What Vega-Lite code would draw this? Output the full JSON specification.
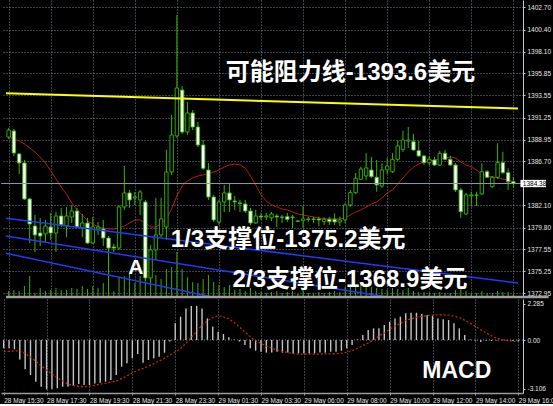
{
  "$schema": "https://vega.github.io/schema/vega-lite/v6.json",
  "background": "black",
  "padding": 0,
  "spacing": 0,
  "config": {"view": {"stroke": null}, "font": "Liberation Sans", "axis": {"labelOverlap": false}},
  "datasets": {
    "candles": [
      {"i":0,"o":1389.22,"h":1390.16,"l":1389.02,"c":1389.95,"v":60,"ma":1389.22,"m":-0.53,"s":-0.74},
      {"i":1,"o":1389.85,"h":1390.06,"l":1387.25,"c":1387.56,"v":70,"ma":1389.02,"m":-0.53,"s":-0.72},
      {"i":2,"o":1387.46,"h":1387.56,"l":1385.37,"c":1386.52,"v":60,"ma":1388.81,"m":-0.59,"s":-0.69},
      {"i":3,"o":1386.52,"h":1386.83,"l":1382.67,"c":1382.77,"v":110,"ma":1388.5,"m":-1.23,"s":-0.68},
      {"i":4,"o":1382.77,"h":1382.88,"l":1378.19,"c":1380.17,"v":210,"ma":1388.08,"m":-1.86,"s":-0.85},
      {"i":5,"o":1379.96,"h":1381.11,"l":1377.26,"c":1379.03,"v":40,"ma":1387.66,"m":-2.22,"s":-1.1},
      {"i":6,"o":1379.23,"h":1380.8,"l":1377.88,"c":1378.92,"v":90,"ma":1387.14,"m":-2.64,"s":-1.35},
      {"i":7,"o":1379.13,"h":1380.59,"l":1378.19,"c":1379.96,"v":60,"ma":1386.52,"m":-2.96,"s":-1.62},
      {"i":8,"o":1379.86,"h":1381.32,"l":1378.51,"c":1379.23,"v":70,"ma":1385.69,"m":-3.13,"s":-1.9},
      {"i":9,"o":1379.23,"h":1381.42,"l":1377.26,"c":1381.0,"v":90,"ma":1384.85,"m":-3.13,"s":-2.15},
      {"i":10,"o":1381.0,"h":1381.84,"l":1379.86,"c":1380.07,"v":70,"ma":1384.02,"m":-3.06,"s":-2.4},
      {"i":11,"o":1379.96,"h":1381.94,"l":1378.82,"c":1381.0,"v":70,"ma":1383.29,"m":-2.96,"s":-2.6},
      {"i":12,"o":1380.9,"h":1382.15,"l":1380.27,"c":1381.52,"v":90,"ma":1382.36,"m":-2.96,"s":-2.8},
      {"i":13,"o":1381.52,"h":1381.84,"l":1379.75,"c":1379.86,"v":80,"ma":1381.63,"m":-2.92,"s":-2.88},
      {"i":14,"o":1379.75,"h":1381.21,"l":1378.82,"c":1380.27,"v":110,"ma":1381.11,"m":-2.79,"s":-2.94},
      {"i":15,"o":1380.27,"h":1380.8,"l":1378.09,"c":1378.19,"v":80,"ma":1380.48,"m":-2.85,"s":-2.96},
      {"i":16,"o":1378.19,"h":1380.9,"l":1378.09,"c":1379.86,"v":110,"ma":1380.17,"m":-2.85,"s":-2.92},
      {"i":17,"o":1379.65,"h":1380.38,"l":1379.03,"c":1379.86,"v":90,"ma":1379.86,"m":-2.75,"s":-2.86},
      {"i":18,"o":1379.65,"h":1380.59,"l":1377.88,"c":1378.71,"v":140,"ma":1379.75,"m":-2.71,"s":-2.8},
      {"i":19,"o":1378.71,"h":1378.92,"l":1374.9,"c":1377.67,"v":210,"ma":1379.65,"m":-2.64,"s":-2.74},
      {"i":20,"o":1377.78,"h":1378.09,"l":1377.26,"c":1377.67,"v":60,"ma":1379.65,"m":-2.54,"s":-2.67},
      {"i":21,"o":1377.67,"h":1382.15,"l":1377.47,"c":1381.94,"v":190,"ma":1379.75,"m":-2.22,"s":-2.6},
      {"i":22,"o":1381.94,"h":1386.21,"l":1381.63,"c":1383.4,"v":210,"ma":1379.96,"m":-1.69,"s":-2.45},
      {"i":23,"o":1383.4,"h":1383.71,"l":1381.84,"c":1382.67,"v":240,"ma":1380.27,"m":-1.48,"s":-2.27},
      {"i":24,"o":1382.88,"h":1383.5,"l":1382.15,"c":1382.98,"v":140,"ma":1380.59,"m":-1.16,"s":-2.08},
      {"i":25,"o":1382.67,"h":1383.71,"l":1381.11,"c":1383.5,"v":210,"ma":1380.59,"m":-0.89,"s":-1.93},
      {"i":26,"o":1382.46,"h":1382.67,"l":1374.34,"c":1374.55,"v":300,"ma":1380.27,"m":-1.44,"s":-1.8},
      {"i":27,"o":1374.55,"h":1377.99,"l":1374.14,"c":1377.47,"v":250,"ma":1379.86,"m":-1.27,"s":-1.66},
      {"i":28,"o":1377.47,"h":1382.88,"l":1376.42,"c":1379.03,"v":220,"ma":1379.86,"m":-1.16,"s":-1.5},
      {"i":29,"o":1379.03,"h":1382.88,"l":1378.82,"c":1380.69,"v":180,"ma":1380.17,"m":-1.06,"s":-1.33},
      {"i":30,"o":1379.86,"h":1387.87,"l":1378.51,"c":1385.58,"v":280,"ma":1380.69,"m":-0.8,"s":-1.15},
      {"i":31,"o":1385.58,"h":1391.51,"l":1385.27,"c":1389.43,"v":300,"ma":1381.73,"m":-0.1,"s":-0.95},
      {"i":32,"o":1389.33,"h":1401.92,"l":1389.12,"c":1394.32,"v":450,"ma":1383.08,"m":1.06,"s":-0.75},
      {"i":33,"o":1394.11,"h":1394.53,"l":1389.54,"c":1389.74,"v":280,"ma":1384.12,"m":1.48,"s":-0.55},
      {"i":34,"o":1389.74,"h":1392.87,"l":1389.43,"c":1391.72,"v":200,"ma":1384.65,"m":2.0,"s":-0.2},
      {"i":35,"o":1391.72,"h":1392.03,"l":1389.95,"c":1390.26,"v":150,"ma":1384.96,"m":2.16,"s":0.15},
      {"i":36,"o":1390.26,"h":1390.78,"l":1388.18,"c":1388.39,"v":140,"ma":1385.17,"m":2.16,"s":0.55},
      {"i":37,"o":1388.39,"h":1388.91,"l":1385.79,"c":1385.96,"v":180,"ma":1385.27,"m":2.0,"s":0.95},
      {"i":38,"o":1385.79,"h":1386.52,"l":1382.67,"c":1382.98,"v":220,"ma":1385.37,"m":1.37,"s":1.2},
      {"i":39,"o":1382.98,"h":1383.19,"l":1380.38,"c":1380.59,"v":150,"ma":1385.58,"m":0.85,"s":1.42},
      {"i":40,"o":1380.38,"h":1382.67,"l":1380.07,"c":1382.46,"v":120,"ma":1385.79,"m":0.53,"s":1.54},
      {"i":41,"o":1382.46,"h":1384.23,"l":1381.42,"c":1383.4,"v":100,"ma":1386.1,"m":0.38,"s":1.47},
      {"i":42,"o":1383.4,"h":1384.44,"l":1381.42,"c":1382.67,"v":120,"ma":1386.31,"m":0.17,"s":1.33},
      {"i":43,"o":1382.56,"h":1383.08,"l":1381.63,"c":1382.46,"v":70,"ma":1386.41,"m":0.03,"s":1.12},
      {"i":44,"o":1382.36,"h":1382.67,"l":1381.42,"c":1382.3,"v":80,"ma":1386.31,"m":-0.1,"s":0.82},
      {"i":45,"o":1382.25,"h":1382.67,"l":1381.32,"c":1381.52,"v":60,"ma":1386.0,"m":-0.32,"s":0.5},
      {"i":46,"o":1381.52,"h":1381.84,"l":1380.07,"c":1380.27,"v":90,"ma":1385.17,"m":-0.53,"s":0.2},
      {"i":47,"o":1380.27,"h":1381.63,"l":1380.17,"c":1381.0,"v":60,"ma":1384.23,"m":-0.68,"s":-0.05},
      {"i":48,"o":1381.0,"h":1381.32,"l":1380.59,"c":1380.9,"v":50,"ma":1383.19,"m":-0.74,"s":-0.22},
      {"i":49,"o":1380.9,"h":1381.32,"l":1380.59,"c":1381.0,"v":40,"ma":1382.56,"m":-0.8,"s":-0.38},
      {"i":50,"o":1380.8,"h":1381.42,"l":1380.48,"c":1381.21,"v":50,"ma":1382.15,"m":-0.8,"s":-0.52},
      {"i":51,"o":1381.0,"h":1381.21,"l":1379.86,"c":1380.9,"v":60,"ma":1381.94,"m":-0.74,"s":-0.63},
      {"i":52,"o":1380.9,"h":1381.11,"l":1380.27,"c":1380.85,"v":40,"ma":1381.73,"m":-0.8,"s":-0.72},
      {"i":53,"o":1380.93,"h":1381.32,"l":1380.38,"c":1380.66,"v":50,"ma":1381.63,"m":-0.8,"s":-0.8},
      {"i":54,"o":1380.9,"h":1381.11,"l":1379.75,"c":1380.85,"v":60,"ma":1381.42,"m":-0.85,"s":-0.87},
      {"i":55,"o":1380.48,"h":1380.59,"l":1380.38,"c":1380.45,"v":30,"ma":1381.21,"m":-0.85,"s":-0.89},
      {"i":56,"o":1380.51,"h":1382.04,"l":1379.75,"c":1380.69,"v":80,"ma":1381.11,"m":-0.85,"s":-0.89},
      {"i":57,"o":1380.64,"h":1380.93,"l":1380.41,"c":1380.69,"v":40,"ma":1381.0,"m":-0.85,"s":-0.89},
      {"i":58,"o":1380.69,"h":1380.93,"l":1380.27,"c":1380.64,"v":40,"ma":1380.9,"m":-0.85,"s":-0.89},
      {"i":59,"o":1380.69,"h":1380.93,"l":1379.96,"c":1380.59,"v":50,"ma":1380.8,"m":-0.8,"s":-0.89},
      {"i":60,"o":1380.41,"h":1380.87,"l":1380.07,"c":1380.66,"v":40,"ma":1380.69,"m":-0.8,"s":-0.88},
      {"i":61,"o":1380.66,"h":1380.9,"l":1380.07,"c":1380.41,"v":50,"ma":1380.69,"m":-0.74,"s":-0.87},
      {"i":62,"o":1380.66,"h":1381.28,"l":1380.07,"c":1380.38,"v":60,"ma":1380.69,"m":-0.74,"s":-0.86},
      {"i":63,"o":1380.38,"h":1380.93,"l":1379.96,"c":1380.59,"v":50,"ma":1380.69,"m":-0.68,"s":-0.84},
      {"i":64,"o":1380.59,"h":1382.32,"l":1380.24,"c":1382.15,"v":100,"ma":1380.8,"m":-0.53,"s":-0.78},
      {"i":65,"o":1382.15,"h":1383.71,"l":1381.94,"c":1383.43,"v":120,"ma":1381.11,"m":-0.32,"s":-0.68},
      {"i":66,"o":1383.43,"h":1385.48,"l":1383.29,"c":1384.93,"v":110,"ma":1381.42,"m":0.05,"s":-0.52},
      {"i":67,"o":1384.82,"h":1386.13,"l":1384.75,"c":1385.89,"v":130,"ma":1381.63,"m":0.32,"s":-0.35},
      {"i":68,"o":1385.17,"h":1387.56,"l":1384.75,"c":1386.0,"v":140,"ma":1381.94,"m":0.63,"s":-0.19},
      {"i":69,"o":1385.79,"h":1387.17,"l":1384.96,"c":1385.09,"v":100,"ma":1382.25,"m":0.74,"s":0.0},
      {"i":70,"o":1385.03,"h":1386.83,"l":1383.53,"c":1384.23,"v":90,"ma":1382.46,"m":0.74,"s":0.25},
      {"i":71,"o":1384.12,"h":1386.49,"l":1383.92,"c":1385.79,"v":80,"ma":1382.88,"m":0.95,"s":0.45},
      {"i":72,"o":1385.79,"h":1387.04,"l":1385.37,"c":1386.21,"v":70,"ma":1383.4,"m":1.16,"s":0.68},
      {"i":73,"o":1385.61,"h":1387.56,"l":1385.48,"c":1386.9,"v":90,"ma":1383.71,"m":1.37,"s":0.88},
      {"i":74,"o":1386.9,"h":1388.91,"l":1386.73,"c":1388.29,"v":80,"ma":1384.33,"m":1.48,"s":1.05},
      {"i":75,"o":1387.94,"h":1389.88,"l":1387.66,"c":1388.91,"v":70,"ma":1384.96,"m":1.69,"s":1.24},
      {"i":76,"o":1388.81,"h":1390.26,"l":1388.08,"c":1388.91,"v":90,"ma":1385.58,"m":1.73,"s":1.34},
      {"i":77,"o":1388.73,"h":1389.54,"l":1387.77,"c":1387.87,"v":60,"ma":1386.1,"m":1.73,"s":1.43},
      {"i":78,"o":1387.8,"h":1388.81,"l":1387.14,"c":1387.25,"v":50,"ma":1386.41,"m":1.65,"s":1.5},
      {"i":79,"o":1387.25,"h":1387.35,"l":1386.31,"c":1386.55,"v":50,"ma":1386.62,"m":1.59,"s":1.55},
      {"i":80,"o":1386.55,"h":1387.25,"l":1386.31,"c":1386.9,"v":40,"ma":1386.73,"m":1.52,"s":1.58},
      {"i":81,"o":1386.83,"h":1387.14,"l":1386.21,"c":1386.31,"v":40,"ma":1386.83,"m":1.37,"s":1.59},
      {"i":82,"o":1386.31,"h":1387.77,"l":1386.21,"c":1387.53,"v":50,"ma":1386.93,"m":1.31,"s":1.59},
      {"i":83,"o":1387.53,"h":1387.87,"l":1386.83,"c":1386.9,"v":40,"ma":1387.04,"m":1.27,"s":1.58},
      {"i":84,"o":1386.9,"h":1387.25,"l":1386.21,"c":1386.31,"v":40,"ma":1387.14,"m":1.06,"s":1.52},
      {"i":85,"o":1386.31,"h":1386.52,"l":1383.5,"c":1383.71,"v":70,"ma":1387.04,"m":0.74,"s":1.42},
      {"i":86,"o":1383.71,"h":1383.92,"l":1380.8,"c":1381.45,"v":80,"ma":1386.62,"m":0.32,"s":1.25},
      {"i":87,"o":1381.21,"h":1383.4,"l":1381.11,"c":1383.19,"v":60,"ma":1386.31,"m":0.04,"s":1.07},
      {"i":88,"o":1383.08,"h":1383.53,"l":1381.97,"c":1383.19,"v":40,"ma":1386.1,"m":-0.04,"s":0.87},
      {"i":89,"o":1383.14,"h":1383.53,"l":1382.04,"c":1383.19,"v":40,"ma":1385.79,"m":-0.13,"s":0.65},
      {"i":90,"o":1383.29,"h":1386.49,"l":1383.19,"c":1385.61,"v":60,"ma":1385.37,"m":-0.04,"s":0.45},
      {"i":91,"o":1385.61,"h":1385.79,"l":1384.96,"c":1385.03,"v":40,"ma":1385.17,"m":-0.06,"s":0.27},
      {"i":92,"o":1384.05,"h":1385.17,"l":1383.92,"c":1385.03,"v":40,"ma":1385.06,"m":-0.03,"s":0.1},
      {"i":93,"o":1385.03,"h":1388.57,"l":1384.85,"c":1386.55,"v":60,"ma":1384.96,"m":-0.02,"s":0.02},
      {"i":94,"o":1386.55,"h":1387.69,"l":1385.37,"c":1385.51,"v":50,"ma":1384.85,"m":-0.04,"s":-0.04},
      {"i":95,"o":1385.51,"h":1385.97,"l":1383.71,"c":1384.57,"v":50,"ma":1384.75,"m":-0.06,"s":-0.08},
      {"i":96,"o":1384.57,"h":1385.06,"l":1383.92,"c":1384.38,"v":30,"ma":1384.54,"m":-0.08,"s":-0.11}
    ],
    "trend": [
      {"line":"resist","i":-0.504,"p":1393.77},
      {"line":"resist","i":96.88,"p":1392.19},
      {"line":"s1","i":-0.504,"p":1380.76},
      {"line":"s1","i":96.88,"p":1374.03},
      {"line":"s2","i":-0.504,"p":1378.92},
      {"line":"s2","i":96.88,"p":1370.39},
      {"line":"s3","i":-0.504,"p":1377.12},
      {"line":"s3","i":96.88,"p":1365.82}
    ],
    "bid": [{"p": 1384.38, "label": "1384.38"}],
    "one": [{}]
  },
  "vconcat": [
    {
      "width": 522,
      "height": 297,
      "layer": [
        {
          "data": {"name": "candles"},
          "mark": {"type": "rule", "color": "#3aae00", "strokeWidth": 1},
          "encoding": {
            "x": {"field": "i", "type": "quantitative", "scale": {"domain": [-0.504, 96.88], "nice": false, "zero": false},
                  "axis": {"values": [0,8,16,24,32,40,48,56,64,72,80,88,96], "tickCount": 20, "grid": true, "gridColor": "#778899", "gridDash": [1,2], "labels": false, "ticks": false, "domain": false, "title": null}},
            "y": {"field": "v", "type": "quantitative", "scale": {"domain": [0, 2970], "nice": false}, "axis": null},
            "y2": {"datum": 0}
          }
        },
        {
          "data": {"name": "candles"},
          "encoding": {
            "x": {"field": "i", "type": "quantitative"}
          },
          "layer": [
            {
              "mark": {"type": "line", "color": "#b81c1c", "strokeWidth": 1},
              "encoding": {
                "y": {"field": "ma", "type": "quantitative", "scale": {"domain": [1372.57, 1403.48], "nice": false, "zero": false},
                      "axis": {"orient": "right", "values": [1402.70,1400.40,1398.10,1395.85,1393.55,1391.25,1388.95,1386.70,1382.10,1379.80,1377.55,1375.25,1372.95],
                               "tickCount": 20,
                               "labelExpr": "format(datum.value, '.2f')", "grid": true, "gridColor": "#778899", "gridDash": [1,2],
                               "domainColor": "#c8c8c8", "tickColor": "#c8c8c8", "tickSize": 2, "labelPadding": 2,
                               "labelFont": "Liberation Sans", "labelFontSize": 6.5, "labelColor": "#e6e6e6", "labelOverlap": false, "title": null}}
              }
            },
            {
              "mark": {"type": "rule", "color": "#38b800", "strokeWidth": 1},
              "encoding": {
                "y": {"field": "l", "type": "quantitative"},
                "y2": {"field": "h"}
              }
            },
            {
              "mark": {"type": "bar", "size": 3.4, "stroke": "#38b800", "strokeWidth": 0.9},
              "encoding": {
                "y": {"field": "o", "type": "quantitative"},
                "y2": {"field": "c"},
                "color": {"condition": {"test": "datum.c < datum.o", "value": "#ffffff"}, "value": "#000000"}
              }
            }
          ]
        },
        {
          "layer": [
            {
              "data": {"name": "bid"},
              "mark": {"type": "rule", "color": "#8c9aa8", "strokeWidth": 1},
              "encoding": {
                "y": {"field": "p", "type": "quantitative", "scale": {"domain": [1372.57, 1403.48], "nice": false, "zero": false}, "axis": null}
              }
            },
            {
              "data": {"name": "trend"},
              "transform": [{"filter": "datum.line !== 'resist'"}],
              "mark": {"type": "line", "color": "#1e3cff", "strokeWidth": 1.5, "clip": true},
              "encoding": {
                "x": {"field": "i", "type": "quantitative"},
                "y": {"field": "p", "type": "quantitative"},
                "detail": {"field": "line"}
              }
            },
            {
              "data": {"name": "trend"},
              "transform": [{"filter": "datum.line === 'resist'"}],
              "mark": {"type": "line", "color": "#ffff00", "strokeWidth": 2, "clip": true},
              "encoding": {
                "x": {"field": "i", "type": "quantitative"},
                "y": {"field": "p", "type": "quantitative"}
              }
            },
            {
              "data": {"name": "bid"},
              "mark": {"type": "tick", "orient": "horizontal", "color": "#ffffff", "size": 25.6, "thickness": 7.3, "opacity": 1},
              "encoding": {
                "x": {"datum": 99.78},
                "y": {"field": "p", "type": "quantitative"}
              }
            },
            {
              "data": {"name": "bid"},
              "mark": {"type": "text", "color": "#000000", "font": "Liberation Sans", "fontSize": 6.5, "align": "left", "baseline": "middle"},
              "encoding": {
                "x": {"datum": 97.8},
                "y": {"field": "p", "type": "quantitative"},
                "text": {"field": "label"}
              }
            },
            {
              "data": {"name": "one"},
              "mark": {"type": "text", "color": "#ffffff", "font": "Liberation Sans, Noto Sans CJK SC", "fontWeight": "bold", "fontSize": 24, "align": "left", "baseline": "middle"},
              "encoding": {"x": {"datum": 41.3}, "y": {"datum": 1395.88}, "text": {"value": "可能阻力线-1393.6美元"}}
            },
            {
              "data": {"name": "one"},
              "mark": {"type": "text", "color": "#ffffff", "font": "Liberation Sans, Noto Sans CJK SC", "fontWeight": "bold", "fontSize": 24, "align": "left", "baseline": "middle"},
              "encoding": {"x": {"datum": 30.85}, "y": {"datum": 1378.51}, "text": {"value": "1/3支撑位-1375.2美元"}}
            },
            {
              "data": {"name": "one"},
              "mark": {"type": "text", "color": "#ffffff", "font": "Liberation Sans, Noto Sans CJK SC", "fontWeight": "bold", "fontSize": 24, "align": "left", "baseline": "middle"},
              "encoding": {"x": {"datum": 42.6}, "y": {"datum": 1374.34}, "text": {"value": "2/3支撑位-1368.9美元"}}
            },
            {
              "data": {"name": "one"},
              "mark": {"type": "text", "color": "#ffffff", "font": "Liberation Sans", "fontWeight": "bold", "fontSize": 21, "align": "center", "baseline": "middle"},
              "encoding": {"x": {"datum": 24.2}, "y": {"datum": 1375.59}, "text": {"value": "A"}}
            },
            {
              "data": {"name": "one"},
              "mark": {"type": "rule", "color": "#a0a0a0", "strokeWidth": 2.5},
              "encoding": {"x": {"datum": -0.504}, "x2": {"datum": 102.7}, "y": {"datum": 1372.57}}
            }
          ]
        }
      ],
      "resolve": {"scale": {"y": "independent"}}
    },
    {
      "width": 522,
      "height": 94,
      "layer": [
        {
          "data": {"name": "candles"},
          "mark": {"type": "rule", "color": "#c4c4c4", "strokeWidth": 1.4},
          "encoding": {
            "x": {"field": "i", "type": "quantitative", "scale": {"domain": [-0.504, 96.88], "nice": false, "zero": false},
                  "axis": {"values": [0,8,16,24,32,40,48,56,64,72,80,88,96], "tickCount": 20,
                           "labelExpr": "['28 May 15:30','28 May 17:30','28 May 19:30','28 May 21:30','28 May 23:30','29 May 01:30','29 May 03:30','29 May 06:00','29 May 08:00','29 May 10:00','29 May 12:00','29 May 14:00','29 May 16:00'][round(datum.value/8)]",
                           "labelAlign": "left", "labelFlush": false, "labelOverlap": false, "labelFont": "Liberation Sans", "labelFontSize": 6.5, "labelColor": "#e6e6e6", "labelPadding": 2,
                           "grid": true, "gridColor": "#778899", "gridDash": [1,2], "ticks": true, "tickSize": 2, "tickColor": "#9a9a9a", "domainColor": "#9a9a9a", "domainWidth": 1.5, "title": null}},
            "y": {"field": "m", "type": "quantitative", "scale": {"domain": [-3.36, 2.6], "nice": false, "zero": false},
                  "axis": {"orient": "right", "values": [2.285, 0, -3.106], "tickCount": 5, "labelExpr": "datum.value === 0 ? '0.00' : '' + datum.value",
                           "grid": false, "domainColor": "#c8c8c8", "tickColor": "#c8c8c8", "tickSize": 2, "labelPadding": 2,
                           "labelFont": "Liberation Sans", "labelFontSize": 6.5, "labelColor": "#e6e6e6", "labelOverlap": false, "title": null}},
            "y2": {"datum": 0}
          }
        },
        {
          "data": {"name": "one"},
          "mark": {"type": "rule", "color": "#778899", "strokeDash": [1,2], "strokeWidth": 1},
          "encoding": {"y": {"datum": 0}}
        },
        {
          "data": {"name": "candles"},
          "mark": {"type": "line", "color": "#d0281e", "strokeWidth": 1.2, "strokeDash": [2,2]},
          "encoding": {
            "x": {"field": "i", "type": "quantitative"},
            "y": {"field": "s", "type": "quantitative"}
          }
        },
        {
          "data": {"name": "one"},
          "mark": {"type": "text", "color": "#ffffff", "font": "Liberation Sans", "fontWeight": "bold", "fontSize": 23, "align": "left", "baseline": "middle"},
          "encoding": {"x": {"datum": 78.1}, "y": {"datum": -1.98}, "text": {"value": "MACD"}}
        }
      ]
    }
  ]
}
